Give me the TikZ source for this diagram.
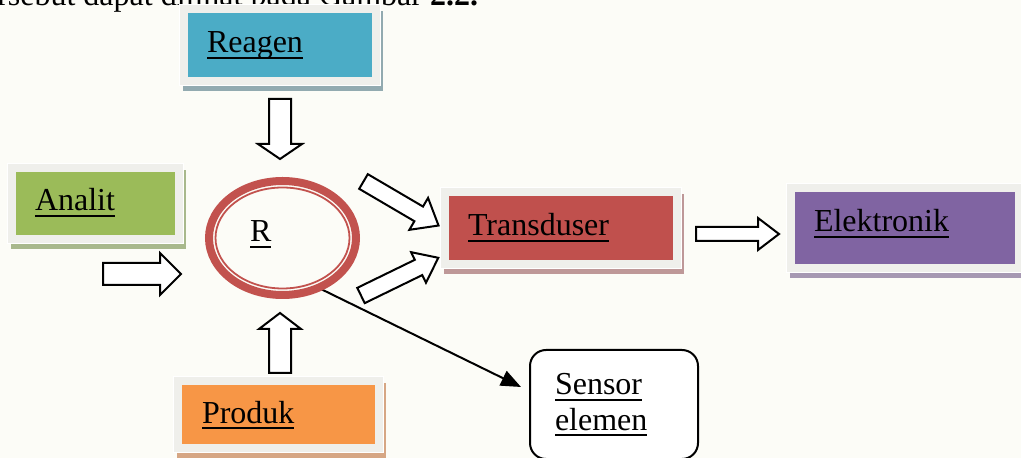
\documentclass[tikz,border=0pt]{standalone}
\usepackage{fontspec}
\setmainfont{Liberation Serif}
\usetikzlibrary{fit,arrows.meta,calc,shapes.geometric}

\definecolor{paper}{RGB}{252,252,247}
\definecolor{framegray}{RGB}{239,239,235}
\definecolor{reagenc}{RGB}{75,172,198}
\definecolor{reagensh}{RGB}{146,170,176}
\definecolor{analitc}{RGB}{155,187,89}
\definecolor{analitsh}{RGB}{168,184,140}
\definecolor{transc}{RGB}{192,80,77}
\definecolor{transsh}{RGB}{190,152,152}
\definecolor{elekc}{RGB}{128,100,162}
\definecolor{eleksh}{RGB}{166,152,178}
\definecolor{produkc}{RGB}{247,150,70}
\definecolor{produksh}{RGB}{214,166,132}
\definecolor{ringred}{RGB}{194,82,78}

% underline at a fixed distance below the baseline
\newcommand\ulin[1]{\leavevmode\setbox0\hbox{#1}\rlap{\rule[-2.8pt]{\wd0}{1pt}}\box0}

\tikzset{
  lbl/.style={inner sep=0pt, outer sep=0pt, font=\fontsize{16}{19}\selectfont, text=black},
  card/.style 2 args={fill=#1, draw=framegray, line width=4pt, inner sep=0pt,
    preaction={draw=#2, fill=#2, line width=4pt, transform canvas={shift={(1.5pt,-3pt)}}},
    preaction={draw=white, line width=5pt}},
  barrow/.style={draw=black, fill=white, line width=1pt, line join=miter},
  pics/blockarrow/.style n args={4}{code={
    \draw[barrow] (0,-#2/2) -- ({#1-#4},-#2/2) -- ({#1-#4},-#3/2) -- (#1,0)
      -- ({#1-#4},#3/2) -- ({#1-#4},#2/2) -- (0,#2/2) -- cycle;
  }},
  conn/.style={draw=black, line width=1pt, -{Triangle[length=10pt,width=8pt]}},
  sensorbox/.style={draw=black, line width=1pt, rounded corners=8pt, fill=white, inner sep=0pt},
  ringnode/.style={ellipse, inner sep=0pt, minimum width=73.5pt, minimum height=57pt}
}

\begin{document}
\begin{tikzpicture}[x=0.5pt, y=-0.5pt]
\path[use as bounding box] (0,0) rectangle (1021,458);
\clip (0,0) rectangle (1021,458);
\fill[paper] (0,0) rectangle (1021,458);

% closing words of the paragraph above the figure
\node[lbl, anchor=base east] (lead) at (478,6) {tersebut dapat dilihat pada Gambar \textbf{2.2.}};

% coloured cards
\node[card={reagenc}{reagensh}, fit={(184,9) (376,81)}] (reagen) {};
\node[card={analitc}{analitsh}, fit={(12,168) (179,239)}] (analit) {};
\node[card={transc}{transsh}, fit={(445,192) (677,264)}] (trans) {};
\node[card={elekc}{eleksh}, fit={(791,188) (1019,268)}] (elek) {};
\node[card={produkc}{produksh}, fit={(178,381) (379,448)}] (produk) {};

\node[lbl, anchor=base west] (reagenT) at (207,53) {\ulin{Reagen}};
\node[lbl, anchor=base west] (analitT) at (35,211) {\ulin{Analit}};
\node[lbl, anchor=base west] (transT) at (468,236) {\ulin{Transduser}};
\node[lbl, anchor=base west] (elekT) at (814,232) {\ulin{Elektronik}};
\node[lbl, anchor=base west] (produkT) at (202,423) {\ulin{Produk}};

% sensor element box
\node[sensorbox, fit={(530,350) (698,459)}] (sensor) {};
\node[lbl, anchor=base west] (sensorT1) at (555,395) {\ulin{Sensor}};
\node[lbl, anchor=base west] (sensorT2) at (555,430) {\ulin{elemen}};

% receptor: the connector runs under the double ring
\node[ringnode] (R) at (282.5,238) {};
\coordinate (sEnd) at (521,387);
\draw[conn] (R.-54) -- (sEnd);
\draw[ringred, line width=4pt] (R.center) ellipse [x radius=36.75pt, y radius=28.5pt];
\draw[ringred, line width=0.9pt] (R.center) ellipse [x radius=33.5pt, y radius=25.25pt];
\node[lbl, anchor=base west] (RT) at (250,242) {\ulin{R}};

% block arrows
\pic[rotate=-90] at (280,99) {blockarrow={60}{22}{44}{15}};
\pic at (103,274) {blockarrow={78}{22}{42}{21}};
\pic[rotate=90] at (280,373) {blockarrow={60}{22}{42}{16}};
\pic[rotate=-30.4] at (363.5,181.5) {blockarrow={87}{17}{37}{23}};
\pic[rotate=26] at (361,295.5) {blockarrow={86}{17}{34}{22}};
\pic at (696,234) {blockarrow={83}{14}{32}{21}};
\end{tikzpicture}
\end{document}
